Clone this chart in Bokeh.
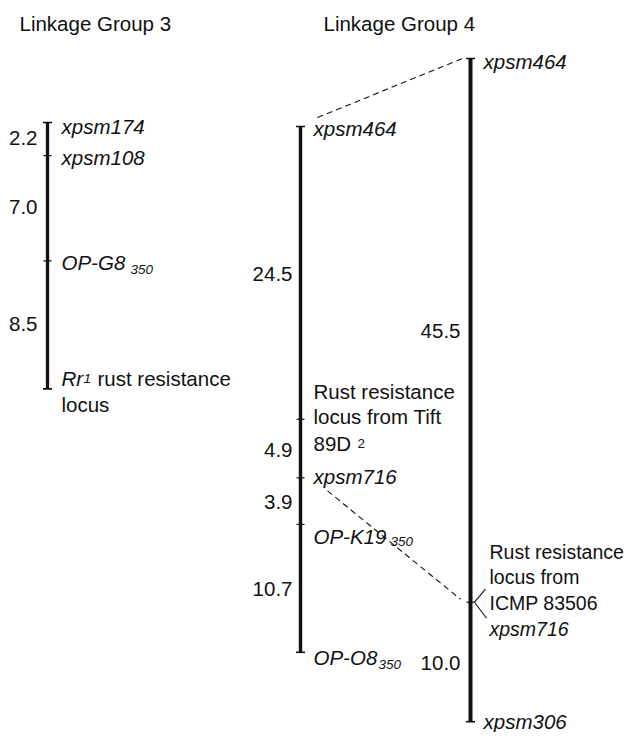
import numpy as np
from bokeh.plotting import figure
from bokeh.models import Range1d
from bokeh.core.properties import value
from bokeh.embed import file_html
from bokeh.resources import INLINE

# ---------------- data ----------------
lg3_title = "Linkage Group 3"
lg4_title = "Linkage Group 4"
lg3_markers = ["xpsm174", "xpsm108", "OP-G8", "Rr1"]
lg3_intervals = [2.2, 7.0, 8.5]
lg4a_markers = ["xpsm464", "Rust locus Tift 89D2", "xpsm716", "OP-K19", "OP-O8"]
lg4a_intervals = [24.5, 4.9, 3.9, 10.7]
lg4b_markers = ["xpsm464", "Rust locus ICMP 83506", "xpsm306"]
lg4b_intervals = [45.5, 10.0]

# ---------------- layout ----------------
W, H = 625, 732
S3, S4 = 15.05, 11.95          # pixels per cM
TOP3, TOP4A, TOP4B = 122, 126, 58
X3, X4A, X4B = 47, 300, 470
FONT = "Liberation Sans"
FS = "20.5px"
FS_R = "19.5px"
FS_SUB = "13.5px"
INK = "#111111"

def positions(intervals, offset=0.0):
    return offset + np.concatenate([[0.0], np.cumsum(intervals)])

p = figure(width=W, height=H, output_backend="svg", toolbar_location=None,
           x_range=Range1d(0, W),
           y_range=Range1d((H - TOP4B) / S4, (0 - TOP4B) / S4),
           x_axis_location=None, y_axis_location=None, min_border=0)
p.extra_y_ranges = {"lg3": Range1d((H - TOP3) / S3, (0 - TOP3) / S3),
                    "px": Range1d(H, 0)}
p.grid.visible = False
p.outline_line_color = None
p.background_fill_color = "white"
p.border_fill_color = "white"

pos3 = positions(lg3_intervals)
pos4a = positions(lg4a_intervals, (TOP4A - TOP4B) / S4)
pos4b = positions(lg4b_intervals)

maps = [("lg3", X3, pos3, lg3_intervals, 10, 3.3, -1),
        ("default", X4A, pos4a, lg4a_intervals, 8, 3.4, 1),
        ("default", X4B, pos4b, lg4b_intervals, 10, 4.0, 1)]

for rn, x, pos, ivals, gap, lw, yo in maps:
    p.segment(x0=[x], y0=[pos[0]], x1=[x], y1=[pos[-1]], line_width=lw,
              line_color=INK, y_range_name=rn)
    ends = [pos[0], pos[-1]]
    p.segment(x0=[x - 4.5] * 2, y0=ends, x1=[x + 4.5] * 2, y1=ends,
              line_width=1.6, line_color=INK, y_range_name=rn)
    inner = list(pos[1:-1])
    if inner:
        p.segment(x0=[x - 4] * len(inner), y0=inner, x1=[x + 4] * len(inner),
                  y1=inner, line_width=1.2, line_color=INK, y_range_name=rn)
    mids = (pos[:-1] + pos[1:]) / 2
    p.text(x=[x - gap] * len(ivals), y=list(mids), text=[f"{v:.1f}" for v in ivals],
           text_align="right", text_baseline="middle", y_offset=yo,
           text_font=value(FONT), text_font_size=FS, text_color=INK,
           y_range_name=rn)


def put(rn, x, y, txt, dx, dy, italic=False, size=FS, align="left"):
    p.text(x=[x], y=[y], text=[txt], x_offset=dx, y_offset=dy,
           text_align=align, text_baseline="alphabetic",
           text_font=value(FONT), text_font_size=size, text_color=INK,
           text_font_style="italic" if italic else "normal", y_range_name=rn)

# titles
put("px", 19, 23, lg3_title, 0, 0)
put("px", 323, 23, lg4_title, 0, 0)

# Linkage group 3 labels
put("lg3", X3, pos3[0], lg3_markers[0], 14, 4, True)
put("lg3", X3, pos3[1], lg3_markers[1], 14, 2, True)
put("lg3", X3, pos3[2], lg3_markers[2], 14, 2, True)
put("lg3", X3, pos3[2], "350", 83, 9, True, FS_SUB)
put("lg3", X3, pos3[3], "Rr", 14, -10, True)
put("lg3", X3, pos3[3], "1", 36, -10, True, FS_SUB)
put("lg3", X3, pos3[3], "rust resistance", 50, -10)
put("lg3", X3, pos3[3], "locus", 14, 16)

# Linkage group 4, left map
put("default", X4A, pos4a[0], lg4a_markers[0], 13, 2, True)
put("default", X4A, pos4a[1], "Rust resistance", 13, -28)
put("default", X4A, pos4a[1], "locus from Tift", 13, -3)
put("default", X4A, pos4a[1], "89D", 13, 24)
put("default", X4A, pos4a[1], "2", 57, 24, False, FS_SUB)
put("default", X4A, pos4a[2], lg4a_markers[2], 13, -1, True)
put("default", X4A, pos4a[3], lg4a_markers[3], 13, 12, True)
put("default", X4A, pos4a[3], "350", 90, 17, True, FS_SUB)
put("default", X4A, pos4a[4], lg4a_markers[4], 13, 5, True)
put("default", X4A, pos4a[4], "350", 78, 12, True, FS_SUB)

# Linkage group 4, right map
put("default", X4B, pos4b[0], lg4b_markers[0], 13, 3, True)
put("default", X4B, pos4b[1], "Rust resistance", 19, -50, False, FS_R)
put("default", X4B, pos4b[1], "locus from", 19, -25, False, FS_R)
put("default", X4B, pos4b[1], "ICMP 83506", 19, 1, False, FS_R)
put("default", X4B, pos4b[1], "xpsm716", 19, 27, True, FS_R)
put("default", X4B, pos4b[2], lg4b_markers[2], 13, 0, True)

# bracket at the ICMP 83506 locus
yb = pos4b[1]
p.segment(x0=[X4B + 4, X4B + 4], y0=[yb, yb], x1=[X4B + 15, X4B + 16],
          y1=[yb - 13 / S4, yb + 16 / S4], line_width=1.1, line_color=INK)

# dashed connectors between the two LG4 maps
p.segment(x0=[X4A + 17, X4A + 27],
          y0=[pos4a[0] - 9 / S4, pos4a[2] + 13 / S4],
          x1=[X4B - 8, X4B - 10],
          y1=[pos4b[0], pos4b[1] - 3 / S4],
          line_width=1.1, line_color=INK, line_dash="6 4")

open("out.html", "w").write(file_html(p, INLINE))
